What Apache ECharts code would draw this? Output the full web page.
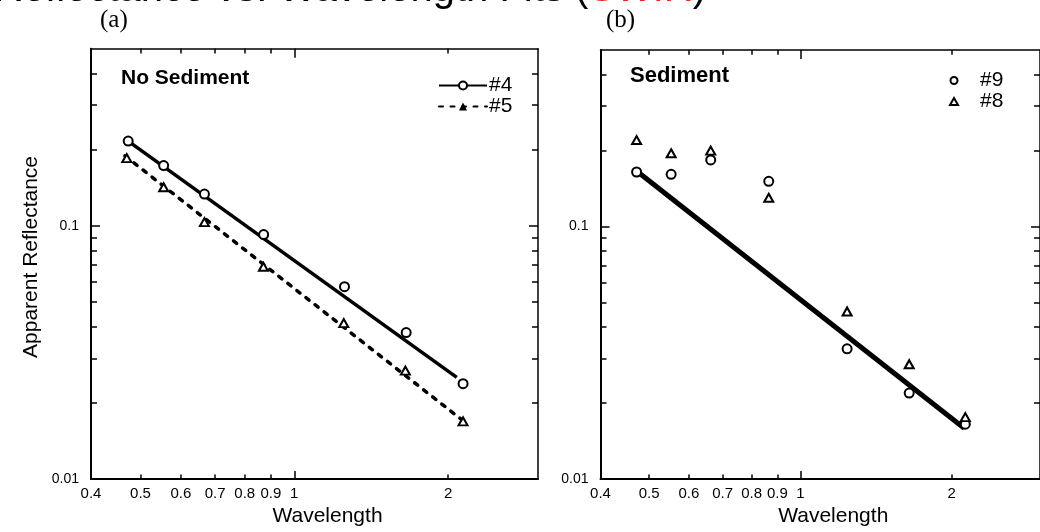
<!DOCTYPE html>
<html>
<head>
<meta charset="utf-8">
<script src="https://cdn.jsdelivr.net/npm/echarts@6/dist/echarts.min.js"></script>
<style>
html,body{margin:0;padding:0;background:#fff;}
#chart{width:1040px;height:532px;}
</style>
</head>
<body>
<div id="chart"></div>
<script>
// ---------------- data ----------------
// panel (a): No Sediment
const wavelength4 = [0.473, 0.555, 0.667, 0.871, 1.254, 1.656, 2.14];
const reflect4    = [0.216, 0.173, 0.1335, 0.0924, 0.0575, 0.0379, 0.0238];
const wavelength5 = [0.470, 0.555, 0.667, 0.870, 1.250, 1.650, 2.14];
const reflect5    = [0.185, 0.142, 0.1034, 0.0689, 0.0413, 0.0268, 0.0169];
const fit4Wave = [0.473, 2.08];
const fit4Refl = [0.216, 0.0252];
const fit5Wave = [0.466, 2.14];
const fit5Refl = [0.189, 0.0170];

// panel (b): Sediment
const wavelength9 = [0.472, 0.553, 0.663, 0.865, 1.239, 1.647, 2.13];
const reflect9    = [0.1644, 0.161, 0.1836, 0.151, 0.0328, 0.0219, 0.0165];
const wavelength8 = [0.472, 0.553, 0.663, 0.865, 1.239, 1.647, 2.13];
const reflect8    = [0.220, 0.195, 0.1997, 0.130, 0.0461, 0.0285, 0.0176];
const fitBWave = [0.472, 2.12];
const fitBRefl = [0.166, 0.0159];

// axes
const xRange = [0.4, 3];
const yRange = [0.01, 0.5];
const xTickLabels = [0.4, 0.5, 0.6, 0.7, 0.8, 0.9, 1, 2];
const xMajorTicks = [1];
const xMinorTicks = [0.5, 0.6, 0.7, 0.8, 0.9, 2];
const yTickLabels = [0.01, 0.1];
const yMajorTicks = [0.1];
const yMinorTicks = [0.02, 0.03, 0.04, 0.05, 0.06, 0.07, 0.08, 0.09, 0.2, 0.3, 0.4];

// ---------------- helpers ----------------
const L = Math.log10;
const pairs = (xs, ys) => xs.map((x, i) => [L(x), L(ys[i])]);
const fmt = v => String(parseFloat(Math.pow(10, v).toPrecision(2)));
const SANS = "'Liberation Sans', Arial, Helvetica, sans-serif";
const SERIF = "'Liberation Serif', 'Times New Roman', serif";
const BLACK = '#000';

function line(show, width) {
  return { show: show, onZero: false, lineStyle: { color: BLACK, width: width || 1.5 } };
}
function ticks(values, length) {
  return { show: true, inside: true, length: length, customValues: values.map(L), lineStyle: { color: BLACK, width: 1.5 } };
}

function xAxesFor(g) {
  const base = { type: 'value', gridIndex: g, min: L(xRange[0]), max: L(xRange[1]), splitLine: { show: false } };
  return [
    Object.assign({}, base, {
      position: 'bottom',
      axisLine: line(true, 2),
      axisTick: ticks(xMajorTicks, 8),
      axisLabel: { show: true, customValues: xTickLabels.map(L), formatter: fmt, color: BLACK, fontSize: 15, fontFamily: SANS, margin: 7 },
      name: 'Wavelength', nameLocation: 'middle', nameGap: 26,
      nameTextStyle: { color: BLACK, fontSize: 21, fontFamily: SANS, padding: [0, 0, 0, 26] }
    }),
    Object.assign({}, base, { position: 'bottom', axisLine: line(false), axisTick: ticks(xMinorTicks, 4.5), axisLabel: { show: false } }),
    Object.assign({}, base, { position: 'top', axisLine: line(true, 1.5), axisTick: ticks(xMajorTicks, 9), axisLabel: { show: false } }),
    Object.assign({}, base, { position: 'top', axisLine: line(false), axisTick: ticks(xMinorTicks, 4.7), axisLabel: { show: false } })
  ];
}

function yAxesFor(g, withName) {
  const base = { type: 'value', gridIndex: g, min: L(yRange[0]), max: L(yRange[1]), splitLine: { show: false } };
  const main = Object.assign({}, base, {
    position: 'left',
    axisLine: line(true, 2),
    axisTick: ticks(yMajorTicks, 9),
    axisLabel: { show: true, customValues: yTickLabels.map(L), formatter: fmt, color: BLACK, fontSize: 14, fontFamily: SANS, margin: 12 }
  });
  if (withName) {
    Object.assign(main, {
      name: 'Apparent Reflectance', nameLocation: 'middle', nameGap: 49,
      nameTextStyle: { color: BLACK, fontSize: 21, fontFamily: SANS, padding: [0, 0, 0, 14] }
    });
  }
  return [
    main,
    Object.assign({}, base, { position: 'left', axisLine: line(false), axisTick: ticks(yMinorTicks, 6), axisLabel: { show: false } }),
    Object.assign({}, base, { position: 'right', axisLine: line(true, 1.5), axisTick: ticks(yMajorTicks, 9), axisLabel: { show: false } }),
    Object.assign({}, base, { position: 'right', axisLine: line(false), axisTick: ticks(yMinorTicks, 6), axisLabel: { show: false } })
  ];
}

const chart = echarts.init(document.getElementById('chart'), null, { renderer: 'canvas' });

const pointStyle = w => ({ color: BLACK, borderColor: BLACK, borderWidth: w, opacity: 1 });

const option = {
  backgroundColor: '#fff',
  animation: false,
  grid: [
    { left: 91, top: 48.8, width: 447, height: 434 },
    { left: 600.5, top: 50, width: 446, height: 433 }
  ],
  xAxis: [].concat(xAxesFor(0), xAxesFor(1)),
  yAxis: [].concat(yAxesFor(0, true), yAxesFor(1, false)),
  legend: [
    {
      data: ['#4', '#5'], orient: 'vertical', left: 438, top: 75, padding: 0,
      itemWidth: 48, itemHeight: 10, itemGap: 0, selectedMode: false,
      textStyle: { color: BLACK, fontSize: 21, fontFamily: SANS, padding: [0, 0, 0, -3] }
    },
    {
      data: ['#9', '#8'], orient: 'vertical', left: 949, top: 70, padding: 0,
      itemWidth: 8, itemHeight: 7, itemGap: 0, selectedMode: false,
      textStyle: { color: BLACK, fontSize: 21, fontFamily: SANS, padding: [0, 0, 0, 17] }
    }
  ],
  series: [
    // fitted lines first (legend icons take line + symbol from these)
    {
      name: '#4', type: 'line', xAxisIndex: 0, yAxisIndex: 0,
      data: pairs(fit4Wave, fit4Refl), symbol: 'emptyCircle', showSymbol: false, symbolSize: 9,
      lineStyle: { color: BLACK, width: 3.5 }, itemStyle: { color: BLACK, borderColor: BLACK }, z: 2, silent: true
    },
    {
      name: '#5', type: 'line', xAxisIndex: 0, yAxisIndex: 0,
      data: pairs(fit5Wave, fit5Refl), symbol: 'triangle', showSymbol: false, symbolSize: 9,
      lineStyle: { color: BLACK, width: 3.5, type: [4, 7.5], cap: 'round' }, itemStyle: { color: BLACK }, z: 2, silent: true
    },
    {
      name: 'fitB', type: 'line', xAxisIndex: 4, yAxisIndex: 4,
      data: pairs(fitBWave, fitBRefl), symbol: 'none',
      lineStyle: { color: BLACK, width: 5 }, z: 2, silent: true
    },
    // measured points
    {
      name: '#4', type: 'scatter', xAxisIndex: 0, yAxisIndex: 0,
      data: pairs(wavelength4, reflect4), symbol: 'emptyCircle', symbolSize: 9,
      itemStyle: pointStyle(1.5), z: 3
    },
    {
      name: '#5', type: 'scatter', xAxisIndex: 0, yAxisIndex: 0,
      data: pairs(wavelength5, reflect5), symbol: 'emptyTriangle', symbolSize: [9, 8],
      itemStyle: pointStyle(1.8), z: 3
    },
    {
      name: '#9', type: 'scatter', xAxisIndex: 4, yAxisIndex: 4,
      data: pairs(wavelength9, reflect9), symbol: 'emptyCircle', symbolSize: 9,
      itemStyle: pointStyle(1.5), z: 3
    },
    {
      name: '#8', type: 'scatter', xAxisIndex: 4, yAxisIndex: 4,
      data: pairs(wavelength8, reflect8), symbol: 'emptyTriangle', symbolSize: [9, 8],
      itemStyle: pointStyle(2), z: 3
    }
  ],
  graphic: [
    {
      type: 'text', left: -6, top: -30, silent: true,
      style: {
        text: '{k|Reflectance vs. Wavelength Fits (}{r|SWIR}{k|)}',
        rich: {
          k: { fill: BLACK, fontSize: 40, fontFamily: SANS },
          r: { fill: '#e8281e', fontSize: 40, fontFamily: SANS }
        }
      }
    },
    {
      type: 'text', left: 100, top: 8, silent: true,
      style: { text: '(a)', fill: BLACK, fontSize: 25, fontFamily: SERIF }
    },
    {
      type: 'text', left: 606, top: 8, silent: true,
      style: { text: '(b)', fill: BLACK, fontSize: 25, fontFamily: SERIF }
    },
    {
      type: 'text', left: 121, top: 68, silent: true,
      style: { text: 'No Sediment', fill: BLACK, fontSize: 21, fontWeight: 'bold', fontFamily: SANS }
    },
    {
      type: 'text', left: 630, top: 65, silent: true,
      style: { text: 'Sediment', fill: BLACK, fontSize: 22, fontWeight: 'bold', fontFamily: SANS }
    }
  ]
};

chart.setOption(option);
</script>
</body>
</html>
